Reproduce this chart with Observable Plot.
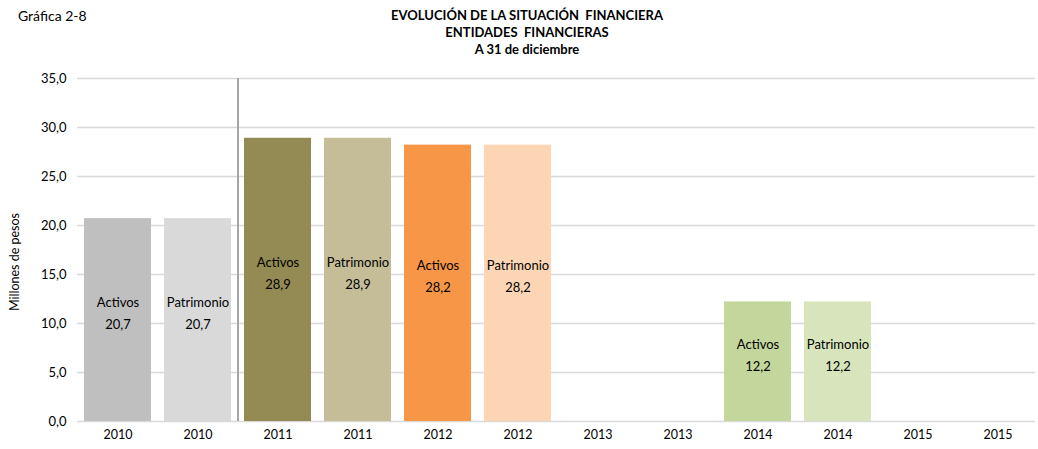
<!DOCTYPE html>
<html><head><meta charset="utf-8">
<script src="https://cdn.jsdelivr.net/npm/d3@7"></script>
<script src="https://cdn.jsdelivr.net/npm/@observablehq/plot@0.6"></script>
<style>
html,body{margin:0;padding:0;background:#fff;}
#wrap{position:relative;width:1038px;height:449px;font-family:Lato,"Open Sans",sans-serif;color:#000;}
#tag{position:absolute;left:18px;top:7px;font-size:14px;}
#title{position:absolute;left:0;width:1038px;top:7px;text-align:center;font-size:13px;font-weight:bold;line-height:17px;padding-left:16px;box-sizing:border-box;}
#chart{position:absolute;left:0;top:0;}
</style></head>
<body><div id="wrap">
<div id="chart"></div>
<div id="tag">Gráfica 2-8</div>
<div id="title">EVOLUCIÓN DE LA SITUACIÓN&nbsp; FINANCIERA<br>ENTIDADES&nbsp; FINANCIERAS<br>A 31 de diciembre</div>
</div>
<script>
const years = ["2010","2010","2011","2011","2012","2012","2013","2013","2014","2014","2015","2015"];
const series = ["Activos","Patrimonio","Activos","Patrimonio","Activos","Patrimonio","Activos","Patrimonio","Activos","Patrimonio","Activos","Patrimonio"];
const values = [20.7, 20.7, 28.9, 28.9, 28.2, 28.2, null, null, 12.2, 12.2, null, null];
const colors = ["#bfbfbf","#d9d9d9","#948a54","#c4bd97","#f79646","#fcd5b4","#ffffff","#ffffff","#c3d69b","#d7e4bc","#ffffff","#ffffff"];
const yTicks = [0,5,10,15,20,25,30,35];
const dividerSlot = 2;

const data = years.map((y,i)=>({slot:i, year:y, series:series[i], value:values[i], color:colors[i]}));
const bars = data.filter(d=>d.value!=null);
const fmt = v => v.toFixed(1).replace(".", ",");

const chart = Plot.plot({
  width:1038, height:449,
  marginLeft:78, marginRight:0, marginTop:78, marginBottom:28,
  style:{fontFamily:"Lato, 'Open Sans', sans-serif", fontSize:"12px", color:"#000", background:"#fff"},
  x:{type:"band", domain:d3.range(years.length), paddingInner:0.16, paddingOuter:0.08, align:0.5, label:null, tickSize:0, tickPadding:9, tickFormat:i=>years[i]},
  y:{domain:[0,35], label:null, ticks:yTicks, tickSize:0, tickPadding:12, tickFormat:fmt},
  marks:[
    Plot.ruleY(yTicks, {stroke:"#d9d9d9", strokeWidth:1.3, insetLeft:-1, insetRight:3}),
    Plot.barY(bars, {x:"slot", y:"value", fill:d=>d.color}),
    Plot.ruleX([dividerSlot], {x:d=>d, dx:-40, stroke:"#a6a6a6", strokeWidth:2, y1:0, y2:35}),
    Plot.text(bars, {x:"slot", y:d=>d.value/2, text:d=>d.series+"\n"+fmt(d.value), lineHeight:1.7, dy:-9, fontSize:13, fill:"#000"}),
    Plot.axisX({tickSize:0, tickPadding:9, tickFormat:i=>years[i], fontSize:12.5}),
    Plot.axisY({ticks:yTicks, tickSize:0, tickPadding:12, tickFormat:fmt, fontSize:13, label:null}),
    Plot.text(["Millones de pesos"], {frameAnchor:"left", textAnchor:"middle", dx:-64, dy:12, rotate:-90, fontSize:12.5, fill:"#000"})
  ]
});
document.getElementById("chart").appendChild(chart);
</script>
</body></html>
